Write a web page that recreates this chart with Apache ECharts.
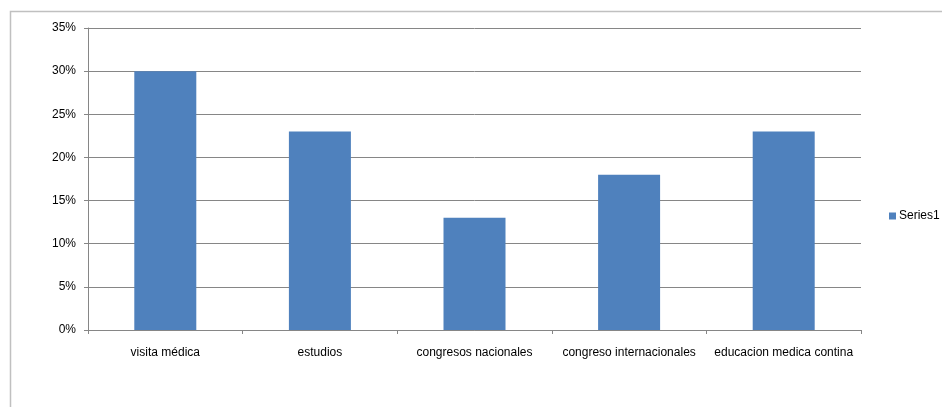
<!DOCTYPE html>
<html>
<head>
<meta charset="utf-8">
<script src="https://cdn.jsdelivr.net/npm/echarts@6/dist/echarts.min.js"></script>
<style>
  html, body { margin: 0; padding: 0; background: #fff; }
  #main { width: 942px; height: 407px; }
</style>
</head>
<body>
<div id="main"></div>
<script>
// datos del gráfico
const categories = ['visita médica', 'estudios', 'congresos nacionales', 'congreso internacionales', 'educacion medica contina'];
const series1 = [30, 23, 13, 18, 23];
const yTicks = [0, 5, 10, 15, 20, 25, 30, 35];

const chart = echarts.init(document.getElementById('main'));
const font = 'Liberation Sans, Arial, sans-serif';

chart.setOption({
  animation: false,
  textStyle: { fontFamily: font },
  graphic: [{
    type: 'rect',
    shape: { x: 10.5, y: 11.5, width: 940, height: 400 },
    style: { fill: 'none', stroke: '#c0c0c0', lineWidth: 1.5 },
    silent: true
  }],
  grid: { left: 88, right: 81, top: 28, bottom: 77 },
  legend: {
    data: ['Series1'],
    orient: 'vertical',
    left: 884,
    top: 205,
    itemWidth: 7,
    itemHeight: 7,
    itemGap: 4,
    icon: 'rect',
    textStyle: { fontSize: 12, color: '#000', fontFamily: font, padding: [0, 0, 0, -2] }
  },
  xAxis: {
    type: 'category',
    data: categories,
    axisLine: { lineStyle: { color: '#868686', width: 1 } },
    axisTick: { show: true, length: 4, lineStyle: { color: '#868686' } },
    axisLabel: { color: '#000', fontSize: 12, margin: 17, interval: 0, fontFamily: font }
  },
  yAxis: {
    type: 'value',
    min: yTicks[0],
    max: yTicks[yTicks.length - 1],
    interval: 5,
    axisLine: { show: true, lineStyle: { color: '#868686', width: 1 } },
    axisTick: { show: true, length: 4, lineStyle: { color: '#868686' } },
    axisLabel: { color: '#000', fontSize: 12, margin: 12, formatter: '{value}%', fontFamily: font },
    splitLine: { lineStyle: { color: '#868686', width: 1 } }
  },
  series: [{
    name: 'Series1',
    type: 'bar',
    data: series1,
    barWidth: 62,
    itemStyle: { color: '#4f81bd' }
  }]
});
</script>
</body>
</html>
